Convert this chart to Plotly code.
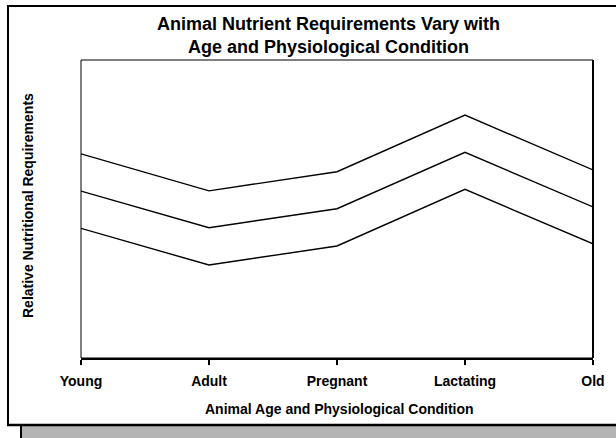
import plotly.graph_objects as go

# ---- data ----
categories = ["Young", "Adult", "Pregnant", "Lactating", "Old"]
upper = [68.5, 56.1, 62.5, 81.5, 63.1]
middle = [56.0, 43.7, 50.1, 69.0, 50.7]
lower = [43.5, 31.2, 37.6, 56.6, 38.3]

title_text = "Animal Nutrient Requirements Vary with<br>Age and Physiological Condition"
x_title = "Animal Age and Physiological Condition"
y_title = "Relative Nutritional Requirements"

# ---- layout geometry (page pixels; body margin removed below) ----
W, H = 616, 438
PLOT_L, PLOT_R, PLOT_T, PLOT_B = 81, 593, 60, 358
L, R, T, B = PLOT_L, W - PLOT_R, PLOT_T, H - PLOT_B
PW, PH = W - L - R, H - T - B

def px_x(p):
    return (p - PLOT_L) / PW

def px_y(p):
    return (PLOT_B - p) / PH

def hline(x0, x1, y, w=2):
    return dict(type="line", xref="paper", yref="paper", layer="below",
                x0=px_x(x0), x1=px_x(x1), y0=px_y(y), y1=px_y(y),
                line=dict(color="black", width=w))

def vline(x, y0, y1, w=2):
    return dict(type="line", xref="paper", yref="paper", layer="below",
                x0=px_x(x), x1=px_x(x), y0=px_y(y0), y1=px_y(y1),
                line=dict(color="black", width=w))

FONT = "Liberation Sans, Arial, sans-serif"

fig = go.Figure()
for ys in (upper, middle, lower):
    fig.add_trace(go.Scatter(x=categories, y=ys, mode="lines",
                             line=dict(color="black", width=1.4),
                             showlegend=False, hoverinfo="skip"))

shapes = [
    # gray drop shadow
    dict(type="rect", xref="paper", yref="paper", layer="below",
         x0=px_x(21), x1=px_x(616), y0=px_y(426), y1=px_y(438),
         fillcolor="#b4b4b4", line=dict(width=0)),
    vline(21, 426, 438, 2),
    # outer border (left, top, bottom)
    vline(8, 5, 426, 2),
    hline(7, 616, 6, 2),
    hline(7, 616, 425, 2.5),
    # plot frame
    dict(type="rect", xref="paper", yref="paper", layer="above",
         x0=0, x1=1, y0=0, y1=1, line=dict(color="black", width=1)),
    # thicker right edge
    dict(type="line", xref="paper", yref="paper", layer="above",
         x0=1, x1=1, y0=0, y1=1, line=dict(color="black", width=2)),
]

annotations = [
    dict(text="<b>" + title_text.replace("<br>", "</b><br><b>") + "</b>",
         xref="paper", yref="paper", x=px_x(328), y=px_y(36),
         xanchor="center", yanchor="middle", showarrow=False,
         font=dict(family=FONT, size=18, color="black")),
    dict(text="<b>" + x_title + "</b>", xref="paper", yref="paper",
         x=px_x(339), y=px_y(409), xanchor="center", yanchor="middle",
         showarrow=False, font=dict(family=FONT, size=14, color="black")),
    dict(text="<b>" + y_title + "</b>", xref="paper", yref="paper",
         x=px_x(28), y=px_y(206), xanchor="center", yanchor="middle",
         textangle=-90, showarrow=False,
         font=dict(family=FONT, size=14, color="black")),
]

fig.update_layout(
    width=W, height=H,
    margin=dict(l=L, r=R, t=T, b=B, autoexpand=False),
    paper_bgcolor="white", plot_bgcolor="white",
    shapes=shapes, annotations=annotations,
    font=dict(family=FONT, color="black"),
    xaxis=dict(type="category", range=[0, len(categories) - 1],
               showgrid=False, zeroline=False,
               showline=True, linecolor="black", linewidth=2,
               ticks="outside", ticklen=5, tickwidth=2, tickcolor="black",
               ticklabelstandoff=4,
               tickvals=categories,
               ticktext=["<b>" + c + "</b>" for c in categories],
               tickfont=dict(family=FONT, size=14, color="black")),
    yaxis=dict(range=[0, 100], showgrid=False, zeroline=False,
               showline=False, showticklabels=False, ticks=""),
)

fig.write_html(
    "out.html",
    config={"displayModeBar": False, "staticPlot": True},
    post_script="document.body.style.margin='0';document.body.style.overflow='hidden';",
)
